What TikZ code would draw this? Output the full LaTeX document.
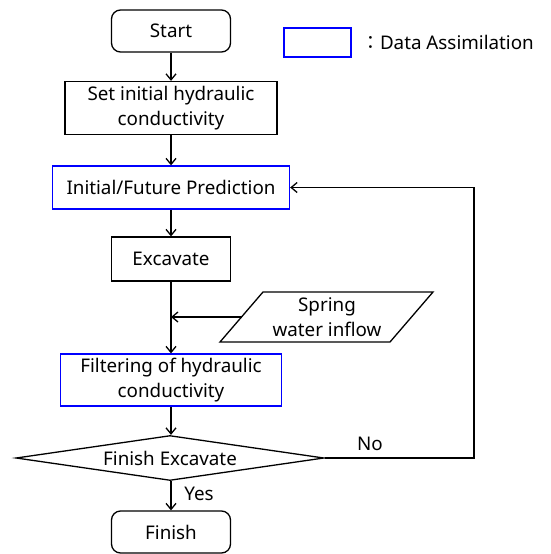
\documentclass[tikz,border=0pt]{standalone}
\usepackage{fontspec}
\setmainfont{Noto Sans}
\newfontfamily\cjkfont{Noto Sans CJK JP}
\usetikzlibrary{arrows.meta,shapes.geometric}
\begin{document}
\begin{tikzpicture}[x=1pt,y=-1pt,
  every node/.style={font=\fontsize{18.8}{25}\selectfont},
  flowbox/.style={draw,line width=1.3pt,inner sep=0pt,align=center},
  dabox/.style={flowbox,draw=blue},
  terminal/.style={flowbox,rounded corners=9pt},
  decision/.style={draw,line width=1.3pt,shape=diamond,aspect=6.8,inner sep=0pt,
    minimum width=308pt,minimum height=45pt},
  flow/.style={line width=1.3pt,-{Straight Barb[length=6pt,width=10pt,line width=1.3pt]}},
  link/.style={line width=1.3pt}]
\useasboundingbox (0,0) rectangle (551,554);

% main column
\node[terminal,minimum width=119pt,minimum height=42pt] (start) at (171,31) {Start};
\node[flowbox,minimum width=212pt,minimum height=53pt] (init) at (171,108)
  {Set initial hydraulic\\conductivity};
\node[dabox,minimum width=237pt,minimum height=43pt] (pred) at (171,187.5)
  {Initial/Future Prediction};
\node[flowbox,minimum width=119pt,minimum height=44pt] (exc) at (171,259) {Excavate};
\node[dabox,minimum width=221pt,minimum height=52pt] (filt) at (171,380)
  {Filtering of hydraulic\\conductivity};
\node[decision] (dec) at (170,458) {Finish Excavate};
\node[terminal,minimum width=119pt,minimum height=42pt] (fin) at (171,532) {Finish};

% spring water inflow input (parallelogram)
\node[align=center] (spring) at (327,317) {Spring\\water inflow};
\coordinate (pTL) at (263,292);
\coordinate (pTR) at (433,292);
\coordinate (pBR) at (390,342);
\coordinate (pBL) at (220,342);
\draw[link,line join=miter] (pTL) -- (pTR) -- (pBR) -- (pBL) -- cycle;
\coordinate (pL) at (241.5,317);
\coordinate (merge) at (171,317);

% legend
\node[dabox,minimum width=67pt,minimum height=29pt] (legbox) at (317.5,42.5) {};
\node[anchor=west,inner sep=0pt] (legtxt) at (361,42.5) {{\cjkfont ：}Data Assimilation};

% connectors
\draw[flow] (start) -- (init);
\draw[flow] (init) -- (pred);
\draw[flow] (pred) -- (exc);
\draw[flow] (exc) -- (filt);
\draw[flow] (pL) -- (merge);
\draw[flow] (filt) -- (dec.north -| filt.south);
\draw[flow] (dec.south -| fin.north) -- (fin);
\coordinate (loopB) at (474,458);
\coordinate (loopT) at (474,187.5);
\draw[flow] (dec.east) -- (loopB) -- (loopT) -- (pred.east);

% branch labels
\node (no) at (370,444) {No};
\node (yes) at (199,494) {Yes};
\end{tikzpicture}
\end{document}
